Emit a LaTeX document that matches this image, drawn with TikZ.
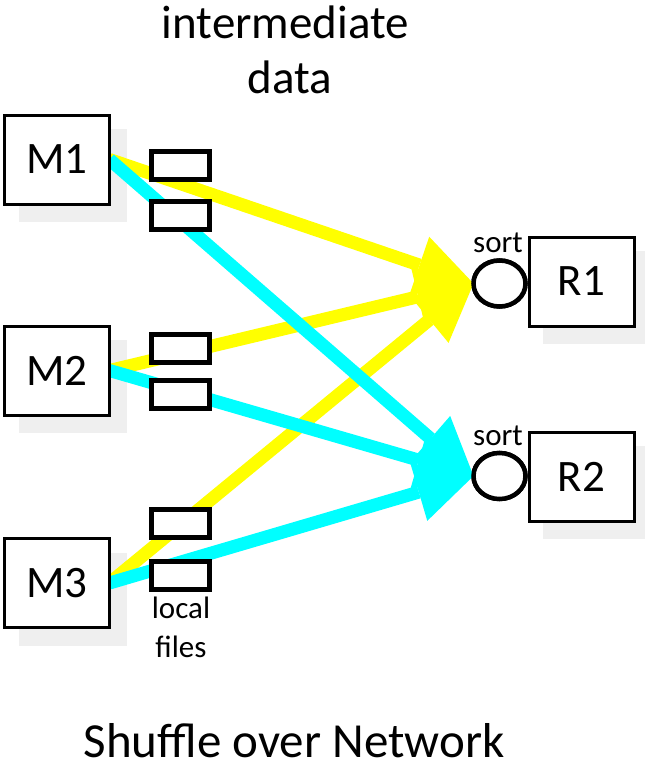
\documentclass[tikz,border=0pt]{standalone}
\usepackage{fontspec}
\setmainfont{Carlito}
\usetikzlibrary{arrows.meta,shapes.geometric}

\definecolor{shadowgray}{HTML}{EFEFEF}
\definecolor{flowyellow}{HTML}{FFFF00}
\definecolor{flowcyan}{HTML}{00FFFF}

\tikzset{
  taskbox/.style={draw=black, line width=3pt, fill=white, minimum width=105pt,
    minimum height=89pt, inner sep=0pt, outer sep=0pt,
    font=\fontsize{45}{48}\selectfont},
  shadowbox/.style={fill=shadowgray, draw=none, minimum width=108pt,
    minimum height=93pt, inner sep=0pt, outer sep=0pt},
  filebox/.style={draw=black, line width=5pt, fill=white, minimum width=58pt,
    minimum height=28pt, inner sep=0pt, outer sep=0pt},
  sorter/.style={draw=black, line width=4.5pt, fill=white, ellipse,
    minimum width=52pt, minimum height=46pt, inner sep=0pt, outer sep=0pt},
  flow/.style={line width=13pt,
    -{Triangle[length=57pt,width=60pt,line width=0pt]}},
  toflow/.style={flow, draw=flowyellow},
  secflow/.style={flow, draw=flowcyan},
  smalltext/.style={font=\fontsize{31}{33}\selectfont, inner sep=0pt, anchor=base},
  bigtext/.style={font=\fontsize{47}{50}\selectfont, inner sep=0pt, anchor=base},
  titletext/.style={font=\fontsize{49}{52}\selectfont, inner sep=0pt, anchor=base},
}

\begin{document}
\begin{tikzpicture}[x=1pt,y=-1pt]
  \useasboundingbox (0,0) rectangle (645,764);

  % drop shadows behind the task boxes
  \node[shadowbox] (M1s) at (73,175) {};
  \node[shadowbox] (M2s) at (73,386) {};
  \node[shadowbox] (M3s) at (73,599) {};
  \node[shadowbox] (R1s) at (597,297) {};
  \node[shadowbox] (R2s) at (597,492) {};

  % map and reduce tasks (placed first so connectors can refer to them)
  \node[taskbox] (M1) at (57,159.5) {M1};
  \node[taskbox] (M2) at (57,370.5) {M2};
  \node[taskbox] (M3) at (57,583) {M3};
  \node[taskbox] (R1) at (581.5,281.5) {R1};
  \node[taskbox] (R2) at (581.5,476.5) {R2};

  % sort stages in front of the reducers
  \node[sorter] (S1) at (499.5,283.5) {};
  \node[sorter] (S2) at (499.5,476) {};

  % shuffle flows: yellow to R1, cyan to R2
  \draw[toflow] (M1.east) -- (S1.west);
  \draw[toflow] (M2.east) -- (S1.west);
  \draw[toflow] (M3.east) -- (S1.west);
  \draw[secflow] (M1.east) -- (S2.west);
  \draw[secflow] (M2.east) -- (S2.west);
  \draw[secflow] (M3.east) -- (S2.west);

  % local intermediate files
  \node[filebox] (F11) at (180,165) {};
  \node[filebox] (F12) at (180,215) {};
  \node[filebox] (F21) at (180,348.5) {};
  \node[filebox] (F22) at (180,394.5) {};
  \node[filebox] (F31) at (180,523) {};
  \node[filebox] (F32) at (180,575.5) {};

  % boxes redrawn on top of the flow ends
  \node[taskbox] at (M1) {M1};
  \node[taskbox] at (M2) {M2};
  \node[taskbox] at (M3) {M3};
  \node[taskbox] at (R1) {R1};
  \node[taskbox] at (R2) {R2};
  \node[sorter] at (S1) {};
  \node[sorter] at (S2) {};

  % labels
  \node[smalltext] (sort1) at (498,252) {sort};
  \node[smalltext] (sort2) at (498,445) {sort};
  \node[smalltext] (local) at (181,618) {local};
  \node[smalltext] (files) at (181,657) {files};
  \node[bigtext] (inter) at (285.5,38) {intermediate};
  \node[bigtext] (data) at (290,93) {data};
  \node[titletext] (title) at (294,757) {Shuffle over Network};
\end{tikzpicture}
\end{document}
